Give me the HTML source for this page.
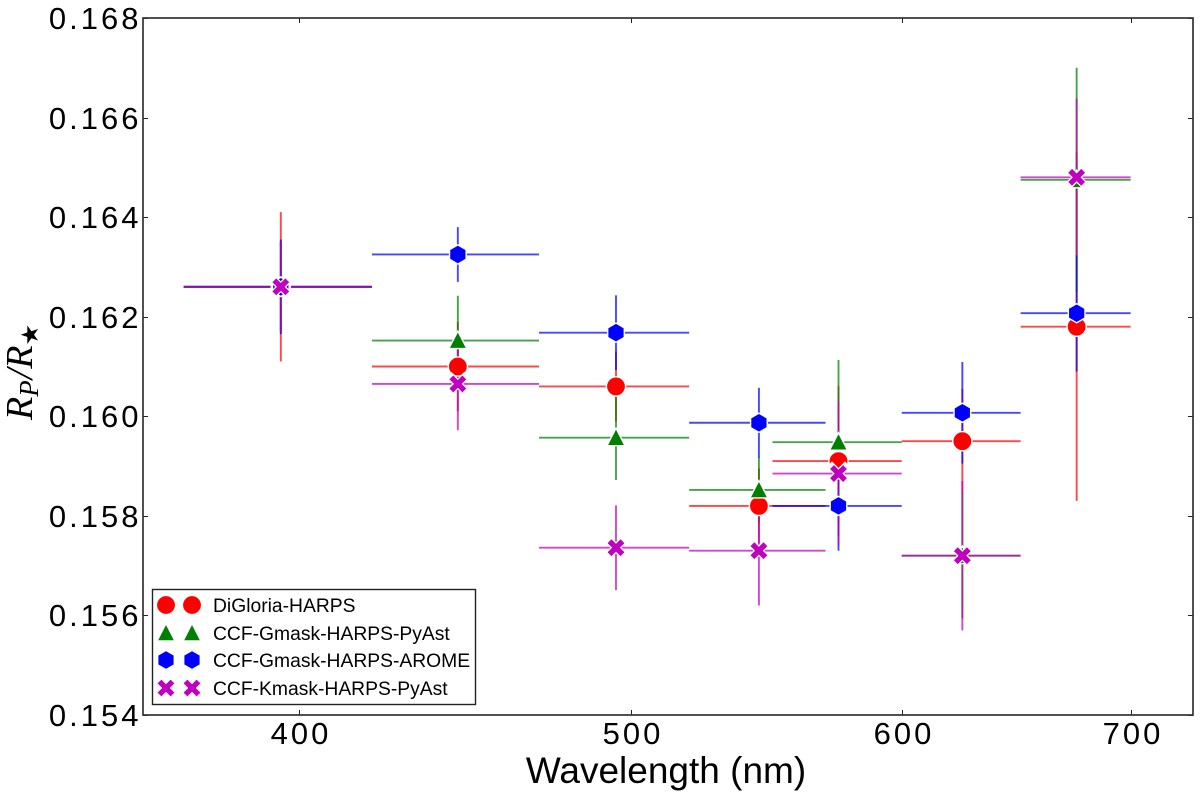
<!DOCTYPE html>
<html>
<head>
<meta charset="utf-8">
<style>
html,body{margin:0;padding:0;background:#fff;}
svg{display:block;filter:blur(0.35px);}
text{font-family:"Liberation Sans",sans-serif;fill:#000;}
</style>
</head>
<body>
<svg id="chart" xmlns="http://www.w3.org/2000/svg" width="1200" height="800" viewBox="0 0 1200 800"></svg>
<script>
const wavelengths = [395, 445, 495, 545, 575, 625, 675];
const binLow = [370, 420, 470, 520, 550, 600, 650];
const binHigh = [420, 470, 520, 570, 600, 650, 700];
const xTicks = [400, 500, 600, 700];
const yTicks = [0.154, 0.156, 0.158, 0.160, 0.162, 0.164, 0.166, 0.168];
const seriesNames = ["DiGloria-HARPS", "CCF-Gmask-HARPS-PyAst", "CCF-Gmask-HARPS-AROME", "CCF-Kmask-HARPS-PyAst"];
const digloriaValues = [0.1626, 0.1610, 0.1606, 0.1582, 0.1591, 0.1595, 0.1618];
const digloriaErrors = [0.0015, 0.0009, 0.0007, 0.00075, 0.0015, 0.00105, 0.0035];
const gmaskValues = [0.1626, 0.16152, 0.15957, 0.15852, 0.15948, 0.1572, 0.16475];
const gmaskErrors = [0.0009, 0.0009, 0.00085, 0.00066, 0.00165, 0.00126, 0.00225];
const aromeValues = [0.1626, 0.16325, 0.16168, 0.15987, 0.1582, 0.16007, 0.16207];
const aromeErrors = [0.00095, 0.00055, 0.00075, 0.0007, 0.0009, 0.00102, 0.00117];
const kmaskValues = [0.1626, 0.16065, 0.15736, 0.1573, 0.15885, 0.1572, 0.1648];
const kmaskErrors = [0.0009, 0.00093, 0.00085, 0.0011, 0.00144, 0.0015, 0.00158];

const NS = "http://www.w3.org/2000/svg";
const svg = document.getElementById("chart");
const plotLeft = 143, plotRight = 1193, plotTop = 18, plotBottom = 715;
const xMin = 360, xMax = 730, yMin = 0.154, yMax = 0.168;
function xScale(v) {
  return plotLeft + (Math.log(v) - Math.log(xMin)) / (Math.log(xMax) - Math.log(xMin)) * (plotRight - plotLeft);
}
function yScale(v) {
  return plotBottom - (v - yMin) / (yMax - yMin) * (plotBottom - plotTop);
}
function make(tag, attrs, parent) {
  const el = document.createElementNS(NS, tag);
  for (const k in attrs) el.setAttribute(k, attrs[k]);
  (parent || svg).appendChild(el);
  return el;
}
function drawMarker(kind, cx, cy, color, parent) {
  let el;
  if (kind === "circle") {
    el = make("circle", {cx: cx, cy: cy, r: 9.6, fill: color, stroke: "#fff", "stroke-width": 1.4}, parent);
  } else if (kind === "triangle") {
    el = make("polygon", {points: (cx) + "," + (cy - 9.5) + " " + (cx + 9) + "," + (cy + 8) + " " + (cx - 9) + "," + (cy + 8), fill: color, stroke: "#fff", "stroke-width": 1.4}, parent);
  } else if (kind === "hexagon") {
    const r = 9.6, pts = [];
    for (let i = 0; i < 6; i++) {
      const a = Math.PI / 2 + i * Math.PI / 3;
      pts.push((cx + r * Math.cos(a)).toFixed(2) + "," + (cy + r * Math.sin(a)).toFixed(2));
    }
    el = make("polygon", {points: pts.join(" "), fill: color, stroke: "#fff", "stroke-width": 1.4}, parent);
  } else {
    const d = 6.5;
    el = make("g", {}, parent);
    const p = "M" + (cx - d) + " " + (cy - d) + "L" + (cx + d) + " " + (cy + d) + "M" + (cx + d) + " " + (cy - d) + "L" + (cx - d) + " " + (cy + d);
    make("path", {d: p, stroke: "#fff", "stroke-width": 8, fill: "none", "stroke-linecap": "square"}, el);
    make("path", {d: p, stroke: color, "stroke-width": 5.4, fill: "none", "stroke-linecap": "butt"}, el);
  }
  return el;
}

const allSeries = [
  {key: "digloria", kind: "circle", color: "#ff0000", values: digloriaValues, errors: digloriaErrors},
  {key: "gmask-pyast", kind: "triangle", color: "#007f00", values: gmaskValues, errors: gmaskErrors},
  {key: "gmask-arome", kind: "hexagon", color: "#0000ff", values: aromeValues, errors: aromeErrors},
  {key: "kmask-pyast", kind: "x", color: "#bf00bf", values: kmaskValues, errors: kmaskErrors}
];

// Error bars below all markers
allSeries.forEach(function (s) {
  const g = make("g", {stroke: s.color, "stroke-width": 1.9, "stroke-opacity": 0.72, fill: "none"});
  
  
  wavelengths.forEach(function (w, i) {
    const px = xScale(w), py = yScale(s.values[i]);
    make("line", {x1: xScale(binLow[i]), x2: xScale(binHigh[i]), y1: py, y2: py}, g);
    make("line", {x1: px, x2: px, y1: yScale(s.values[i] - s.errors[i]), y2: yScale(s.values[i] + s.errors[i])}, g);
  });
});

// Markers
allSeries.forEach(function (s) {
  const g = make("g", {});
  
  
  wavelengths.forEach(function (w, i) {
    const m = drawMarker(s.kind, xScale(w), yScale(s.values[i]), s.color, g);
    
    
  });
});

// Ticks and tick labels
const xTickGroup = make("g", {stroke: "#222", "stroke-width": 1});


xTicks.forEach(function (t) {
  const px = Math.round(xScale(t)) + 0.5;
  make("line", {x1: px, x2: px, y1: plotBottom, y2: plotBottom - 5}, xTickGroup);
  make("line", {x1: px, x2: px, y1: plotTop, y2: plotTop + 5}, xTickGroup);
  const label = make("text", {x: px + 1.5, y: 744, "text-anchor": "middle", "font-size": 31, "letter-spacing": 3});
  label.textContent = String(t);
  
  
});
const yTickGroup = make("g", {stroke: "#222", "stroke-width": 1});


yTicks.forEach(function (t) {
  const py = Math.round(yScale(t)) + 0.5;
  make("line", {x1: plotLeft, x2: plotLeft + 5, y1: py, y2: py}, yTickGroup);
  make("line", {x1: plotRight, x2: plotRight - 5, y1: py, y2: py}, yTickGroup);
  const label = make("text", {x: 141.5, y: py + 10.5, "text-anchor": "end", "font-size": 31, "letter-spacing": 3});
  label.textContent = t.toFixed(3);
  
  
});

// Plot frame
const frame = make("rect", {x: plotLeft, y: plotTop, width: plotRight - plotLeft, height: plotBottom - plotTop, fill: "none", stroke: "#333", "stroke-width": 1.7});



// Axis titles
const xTitle = make("text", {x: 666, y: 783, "text-anchor": "middle", "font-size": 37});
xTitle.textContent = "Wavelength (nm)";



const yTitle = make("text", {transform: "translate(32,420) rotate(-90)", "font-size": 38, style: "font-family:'Liberation Serif',serif;font-style:italic"});


const t1 = make("tspan", {}, yTitle); t1.textContent = "R";
const t2 = make("tspan", {dy: 6, "font-size": 27}, yTitle); t2.textContent = "P";
const t3 = make("tspan", {dy: -6, dx: 1}, yTitle); t3.textContent = "/R";
const t4 = make("tspan", {dy: 6, "font-size": 24, style: "font-style:normal;font-family:'DejaVu Sans',sans-serif"}, yTitle); t4.textContent = "★";

// Legend
const legend = make("g", {});


make("rect", {x: 152.5, y: 589.5, width: 323, height: 115, fill: "#fff", stroke: "#222", "stroke-width": 1.4}, legend);
const legendRowY = [605, 633, 660, 688];
allSeries.forEach(function (s, i) {
  const row = make("g", {}, legend);
  
  
  drawMarker(s.kind, 166, legendRowY[i], s.color, row);
  drawMarker(s.kind, 192, legendRowY[i], s.color, row);
  const label = make("text", {x: 213, y: legendRowY[i] + 7, "font-size": 19.3}, row);
  label.textContent = seriesNames[i];
  
  
});
</script>
</body>
</html>
